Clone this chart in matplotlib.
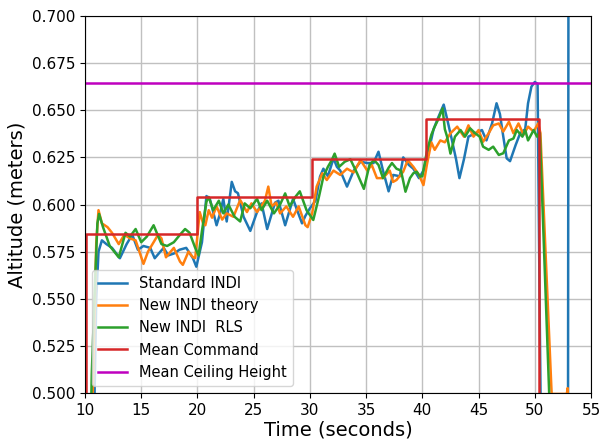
import matplotlib
matplotlib.use("Agg")
import matplotlib.pyplot as plt
import numpy as np

# altitude traces (time in s, altitude in m)
t_std = [10.7, 11.0, 11.2, 11.5, 11.9, 12.4, 13.1, 13.7, 14.2, 14.7, 15.2, 15.8, 16.2, 16.7,
         17.0, 17.4, 17.9, 18.4, 19.0, 19.6, 19.9, 20.4, 20.8, 21.1, 21.4, 21.7, 22.0, 22.3,
         22.6, 23.05, 23.35, 23.6, 24.1, 24.7, 25.3, 25.7, 26.2, 26.9, 27.2, 27.8, 28.2, 28.5,
         28.8, 29.3, 29.6, 30.0, 30.5, 30.9, 31.2, 31.6, 32.1, 32.4, 32.7, 33.3, 33.9, 34.5,
         35.1, 35.66, 36.1, 36.5, 37.0, 37.4, 38.0, 38.3, 38.8, 39.2, 39.7, 40.1, 40.55, 41.0,
         41.4, 41.9, 42.2, 42.6, 43.0, 43.3, 43.7, 44.1, 44.7, 45.3, 45.7, 46.2, 46.6, 46.9,
         47.2, 47.5, 47.8, 48.3, 48.7, 49.15, 49.4, 49.7, 50.0, 50.25, 50.45, 50.6, 52.95, 53.0]
alt_std = [0.45, 0.55, 0.575, 0.581, 0.579, 0.577, 0.5715, 0.579, 0.584, 0.576, 0.578, 0.577,
           0.5715, 0.575, 0.577, 0.573, 0.574, 0.576, 0.577, 0.5715, 0.567, 0.580, 0.6045, 0.603,
           0.596, 0.589, 0.595, 0.603, 0.591, 0.612, 0.607, 0.606, 0.5935, 0.586, 0.596, 0.6006,
           0.587, 0.601, 0.602, 0.589, 0.597, 0.603, 0.598, 0.590, 0.594, 0.598, 0.602, 0.6148,
           0.619, 0.615, 0.6245, 0.620, 0.618, 0.6095, 0.618, 0.6227, 0.622, 0.622, 0.628, 0.618,
           0.607, 0.6157, 0.615, 0.625, 0.621, 0.619, 0.614, 0.618, 0.628, 0.640, 0.646, 0.653,
           0.6455, 0.635, 0.624, 0.614, 0.624, 0.636, 0.6378, 0.6395, 0.634, 0.643, 0.6537, 0.648,
           0.636, 0.6245, 0.623, 0.6316, 0.6378, 0.640, 0.6537, 0.6625, 0.665, 0.664, 0.535,
           0.45, 0.45, 0.75]

t_theory = [10.5, 10.8, 11.0, 11.2, 11.5, 12.0, 12.4, 13.0, 13.5, 14.0, 14.5, 15.2, 15.6, 16.1,
            16.5, 16.8, 17.2, 17.9, 18.45, 18.7, 19.2, 19.6, 19.8, 20.2, 20.5, 20.7, 21.0, 21.3,
            21.7, 22.2, 22.6, 23.2, 23.8, 24.4, 24.8, 25.3, 26.0, 26.3, 26.6, 27.0, 27.35, 27.9,
            28.5, 29.0, 29.6, 29.8, 30.2, 30.6, 31.1, 31.5, 32.1, 32.7, 33.3, 33.9, 34.5, 35.1,
            35.5, 35.96, 36.5, 37.1, 37.4, 37.7, 38.3, 38.7, 39.2, 39.7, 40.1, 40.4, 40.8, 41.1,
            41.6, 42.0, 42.5, 43.1, 43.7, 44.1, 44.55, 45.0, 45.4, 45.9, 46.3, 46.8, 47.2, 47.7,
            48.1, 48.55, 49.0, 49.4, 49.9, 50.3, 50.5, 51.5, 52.85, 52.92, 53.0]
alt_theory = [0.45, 0.53, 0.58, 0.597, 0.590, 0.588, 0.585, 0.579, 0.584, 0.582, 0.581, 0.5685,
              0.575, 0.580, 0.584, 0.582, 0.572, 0.577, 0.5697, 0.568, 0.575, 0.572, 0.5716,
              0.596, 0.590, 0.589, 0.597, 0.593, 0.599, 0.592, 0.5953, 0.5935, 0.6024, 0.596,
              0.6006, 0.596, 0.602, 0.6095, 0.599, 0.601, 0.5953, 0.599, 0.5935, 0.599, 0.589,
              0.588, 0.5953, 0.6095, 0.6166, 0.613, 0.618, 0.6157, 0.619, 0.617, 0.6236, 0.618,
              0.621, 0.614, 0.614, 0.618, 0.612, 0.613, 0.6174, 0.6235, 0.620, 0.6157, 0.6103,
              0.621, 0.633, 0.629, 0.634, 0.633, 0.6378, 0.6413, 0.636, 0.642, 0.636, 0.6395,
              0.6333, 0.6378, 0.642, 0.643, 0.6387, 0.6439, 0.6378, 0.643, 0.637, 0.6413, 0.6387,
              0.643, 0.638, 0.4995, 0.4995, 0.5026, 0.48]

t_rls = [10.4, 10.6, 10.9, 11.1, 11.25, 11.6, 12.2, 13.0, 13.6, 14.0, 14.5, 15.0, 15.5, 16.1,
         16.8, 17.3, 17.9, 18.45, 18.9, 19.3, 19.8, 20.1, 20.4, 20.8, 21.0, 21.4, 21.9, 22.3,
         22.75, 23.3, 23.8, 24.2, 24.7, 25.3, 25.7, 26.2, 26.8, 27.35, 27.8, 28.2, 28.7, 29.1,
         29.7, 30.3, 30.8, 31.2, 31.6, 31.95, 32.2, 32.6, 33.1, 33.6, 34.2, 34.8, 35.3, 35.7,
         36.1, 36.5, 37.0, 37.3, 37.7, 38.1, 38.5, 38.9, 39.2, 39.5, 39.8, 40.0, 40.4, 40.8,
         41.1, 41.4, 41.8, 42.0, 42.2, 42.5, 42.9, 43.4, 43.8, 44.25, 44.7, 45.1, 45.4, 45.9,
         46.3, 46.8, 47.2, 47.7, 48.1, 48.4, 48.9, 49.15, 49.4, 49.9, 50.2, 50.45, 51.4]
alt_rls = [0.45, 0.51, 0.56, 0.59, 0.595, 0.588, 0.578, 0.572, 0.585, 0.583, 0.587, 0.580,
           0.583, 0.589, 0.579, 0.578, 0.580, 0.584, 0.587, 0.585, 0.577, 0.573, 0.586, 0.6015,
           0.604, 0.597, 0.602, 0.5953, 0.600, 0.5935, 0.591, 0.6006, 0.598, 0.603, 0.597, 0.602,
           0.5953, 0.600, 0.6059, 0.599, 0.604, 0.607, 0.597, 0.5918, 0.604, 0.6148, 0.620,
           0.6236, 0.627, 0.620, 0.6227, 0.624, 0.6165, 0.6083, 0.621, 0.6236, 0.621, 0.614,
           0.6195, 0.622, 0.619, 0.618, 0.6068, 0.614, 0.6166, 0.6174, 0.6148, 0.615, 0.628,
           0.637, 0.6413, 0.645, 0.651, 0.640, 0.636, 0.627, 0.636, 0.6395, 0.636, 0.6404,
           0.6378, 0.636, 0.6307, 0.629, 0.6307, 0.6263, 0.6272, 0.634, 0.635, 0.6395, 0.636,
           0.6395, 0.634, 0.6395, 0.636, 0.638, 0.48]

# commanded altitude steps
t_cmd = [10.1, 10.1, 20.0, 20.0, 30.2, 30.2, 40.3, 40.3, 50.4, 50.4]
alt_cmd = [0.45, 0.5842, 0.5842, 0.6041, 0.6041, 0.6241, 0.6241, 0.6452, 0.6452, 0.45]

ceiling = 0.6643

fig = plt.figure(figsize=(6, 4.41), dpi=100)
ax = fig.add_axes([0.1417, 0.1088, 0.8433, 0.8549])

ax.plot(t_std, alt_std, color='tab:blue', lw=1.8, label='Standard INDI')
ax.plot(t_theory, alt_theory, color='tab:orange', lw=1.8, label='New INDI theory')
ax.plot(t_rls, alt_rls, color='tab:green', lw=1.8, label='New INDI  RLS')
ax.plot(t_cmd, alt_cmd, color='tab:red', lw=1.8, label='Mean Command')
ax.plot([10, 55], [ceiling, ceiling], color='m', lw=1.8, label='Mean Ceiling Height')

ax.set_xlim(10, 55)
ax.set_ylim(0.5, 0.7)
ax.set_xticks(np.arange(10, 56, 5))
ax.set_yticks(np.arange(0.5, 0.7001, 0.025))
ax.yaxis.set_major_formatter(matplotlib.ticker.FormatStrFormatter('%.3f'))
ax.tick_params(labelsize=11)
ax.grid(True, color='#c0c0c0', lw=1.0)
ax.set_axisbelow(True)

ax.set_xlabel('Time (seconds)', fontsize=14, labelpad=2)
ax.set_ylabel('Altitude (meters)', fontsize=14)
ax.legend(loc='lower left', fontsize=10.5)

fig.savefig('out.png', dpi=100)
